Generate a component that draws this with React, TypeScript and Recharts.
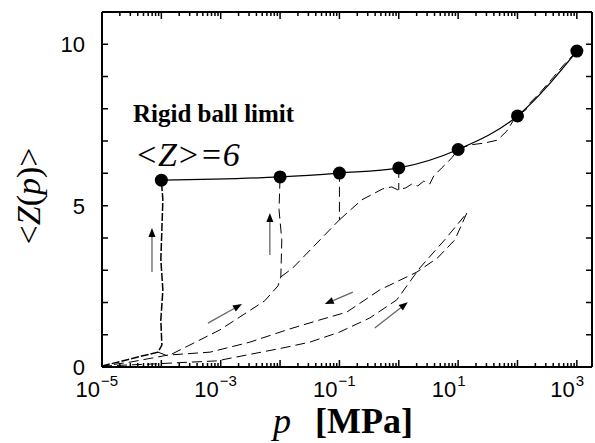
import React from 'react';
import { LineChart, Line, XAxis, YAxis, ReferenceLine } from 'recharts';

// <Z> at the rigid ball limit points (p in MPa)
const rigidP = [1e-4, 1e-2, 1e-1, 1, 10, 100, 1000];
const rigidZ = [5.79, 5.89, 6.01, 6.17, 6.74, 7.78, 9.79];

// dashed compression / decompression runs, [p, Z]
const firstLoad = [
  [1e-5, 0.03], [6.4e-5, 0.4], [8.8e-5, 0.46], [1.02e-4, 0.68], [0.98e-4, 1.46], [1.06e-4, 2.39],
  [0.98e-4, 3.32], [1.02e-4, 4.25], [1.06e-4, 5.18], [1e-4, 5.79],
];
const secondLoad = [
  [8.8e-5, 0.46], [1.29e-4, 0.34], [9.7e-4, 1.15], [5.5e-3, 2.05], [9.2e-3, 2.51], [1.03e-2, 2.79],
  [1.07e-2, 3.94], [0.96e-2, 4.87], [1e-2, 5.89],
];
const thirdLoad = [[1.03e-2, 2.79], [0.0164, 3.07], [0.1, 4.56], [0.1, 6.01]];
const fourthLoad = [
  [0.1, 4.56], [0.238, 5.18], [0.538, 5.52], [0.762, 5.58], [0.96, 5.49], [1.31, 5.55], [1.66, 5.67],
  [2.09, 5.61], [2.64, 5.76], [3.33, 5.67], [3.88, 5.92], [5.3, 6.17], [6.68, 6.35], [7.8, 6.48], [10, 6.74],
];
const jumpAtOne = [[1, 6.17], [1, 5.49]];
const highLoad = [
  [10, 6.74], [15.7, 6.88], [28, 6.94], [46, 7.03], [66, 7.31], [86, 7.65], [109, 7.84], [137, 7.96],
  [155, 8.15], [237, 8.49], [377, 8.92], [600, 9.36], [1000, 9.79],
];
const reload = [
  [1e-5, 0.03], [6.4e-5, 0.09], [8.6e-4, 0.19], [0.0111, 0.59], [0.0318, 0.77], [0.1, 1.08],
  [0.325, 1.52], [0.925, 2.08], [2.26, 3.07], [5.94, 3.94], [14, 4.77],
];
const unload = [
  [14, 4.77], [8.8, 3.94], [4.5, 3.38], [2.01, 2.94], [0.479, 2.39], [0.133, 1.7], [0.0468, 1.46],
  [0.0146, 1.18], [3.1e-3, 0.77], [6.6e-4, 0.46], [1.29e-4, 0.37], [2.96e-5, 0.15], [1e-5, 0.03],
];

// arrows: [pFrom, zFrom, pTo, zTo]
const arrows = [
  [6.95e-5, 2.94, 6.95e-5, 4.31],
  [6.73e-3, 3.47, 6.73e-3, 4.77],
  [6.1e-4, 1.36, 2.28e-3, 1.95],
  [0.168, 2.32, 0.0567, 1.95],
  [0.394, 1.21, 1.42, 2.01],
];

const decades = [-5, -4, -3, -2, -1, 0, 1, 2, 3];
const labeledDecades = [-5, -3, -1, 1, 3];
const minorSteps = [2, 3, 4, 5, 6, 7, 8, 9];
const yTicks = [0, 1, 2, 3, 4, 5, 6, 7, 8, 9, 10];
const yLabels = [0, 5, 10];

const xTicks = decades.flatMap((d) =>
  d === 3 ? [Math.pow(10, d)] : [Math.pow(10, d), ...minorSteps.map((m) => m * Math.pow(10, d))]
);

const toPts = (arr: number[][]) => arr.map(([p, z]) => ({ p, z }));
const rigid = rigidP.map((p, i) => ({ p, z: rigidZ[i] }));

const SANS = '"Liberation Sans", Arial, sans-serif';
const SERIF = '"Liberation Serif", "Times New Roman", serif';

const W = 595;
const H = 443;
const M = { top: 12, right: 3, bottom: 76, left: 102 };
const PLOT_W = W - M.left - M.right;
const PLOT_H = H - M.top - M.bottom;

const decadeOf = (v: number) => {
  const l = Math.log10(v);
  return Math.abs(l - Math.round(l)) < 1e-6 ? Math.round(l) : null;
};

// bottom ticks also draw the mirrored ticks on the top frame
const BottomTick = (props: any) => {
  const { payload } = props;
  const x = Number(props.x);
  const y = Number(props.y);
  const d = decadeOf(payload.value);
  const len = d !== null ? 7 : 4;
  const sup = d !== null && labeledDecades.includes(d) ? (d < 0 ? `\u2212${-d}` : `${d}`) : null;
  const top = y - PLOT_H;
  return (
    <g>
      <path d={`M${x},${y}V${y - len}M${x},${top}V${top + len}`} stroke="#000" strokeWidth={1.5} fill="none" />
      {sup !== null && (
        <>
          <text x={x - 2} y={y + 30} textAnchor="end" fontFamily={SANS} fontSize={22} fill="#000">10</text>
          <text x={x - 1} y={y + 19} textAnchor="start" fontFamily={SANS} fontSize={15} fill="#000">{sup}</text>
        </>
      )}
    </g>
  );
};

// left ticks also draw the mirrored ticks on the right frame
const LeftTick = (props: any) => {
  const { payload } = props;
  const x = Number(props.x);
  const y = Number(props.y);
  const right = x + PLOT_W;
  return (
    <g>
      <path d={`M${x},${y}H${x + 6}M${right},${y}H${right - 6}`} stroke="#000" strokeWidth={1.5} fill="none" />
      {yLabels.includes(payload.value) && (
        <text x={x - 17} y={y + 8} textAnchor="end" fontFamily={SANS} fontSize={22} fill="#000">
          {payload.value}
        </text>
      )}
    </g>
  );
};

const Arrow = (props: any) => {
  const { x1, y1, x2, y2 } = props;
  const a = Math.atan2(y2 - y1, x2 - x1);
  const L = 9;
  const w = 3.5;
  const bx = x2 - L * Math.cos(a);
  const by = y2 - L * Math.sin(a);
  const pts = `${x2},${y2} ${bx - w * Math.sin(a)},${by + w * Math.cos(a)} ${bx + w * Math.sin(a)},${by - w * Math.cos(a)}`;
  return (
    <g>
      <line x1={x1} y1={y1} x2={bx} y2={by} stroke="#666" strokeWidth={1.3} />
      <polygon points={pts} fill="#000" />
    </g>
  );
};

const dashedRuns = [secondLoad, thirdLoad, fourthLoad, jumpAtOne, highLoad, reload, unload];

export default function App() {
  return (
    <div style={{ position: 'absolute', left: 0, top: 0, width: W, height: H, background: '#fff' }}>
      <LineChart width={W} height={H} margin={{ top: M.top - 1, right: M.right - 1, bottom: 0, left: 0 }}>
        <XAxis
          dataKey="p"
          type="number"
          scale="log"
          domain={[1e-5, 1800]}
          allowDataOverflow
          ticks={xTicks}
          interval={0}
          tickSize={0}
          tickMargin={0}
          tickLine={false}
          height={M.bottom}
          axisLine={{ stroke: '#000', strokeWidth: 2 }}
          tick={<BottomTick />}
        />
        <XAxis
          xAxisId="top"
          orientation="top"
          dataKey="p"
          type="number"
          scale="log"
          domain={[1e-5, 1800]}
          allowDataOverflow
          height={1}
          tick={false}
          tickLine={false}
          axisLine={{ stroke: '#000', strokeWidth: 2 }}
        />
        <YAxis
          type="number"
          domain={[0, 11]}
          allowDataOverflow
          ticks={yTicks}
          interval={0}
          tickSize={0}
          tickMargin={0}
          tickLine={false}
          width={M.left}
          axisLine={{ stroke: '#000', strokeWidth: 2 }}
          tick={<LeftTick />}
        />
        <YAxis
          yAxisId="right"
          orientation="right"
          type="number"
          domain={[0, 11]}
          allowDataOverflow
          width={1}
          tick={false}
          tickLine={false}
          axisLine={{ stroke: '#000', strokeWidth: 2 }}
        />
        <Line
          data={toPts(firstLoad)}
          dataKey="z"
          type="linear"
          stroke="#000"
          strokeWidth={1.5}
          strokeDasharray="8 2"
          dot={false}
          isAnimationActive={false}
        />
        {dashedRuns.map((run, i) => (
          <Line
            key={i}
            data={toPts(run)}
            dataKey="z"
            type="linear"
            stroke="#000"
            strokeWidth={1}
            strokeDasharray="10 5"
            dot={false}
            isAnimationActive={false}
          />
        ))}
        <Line
          data={rigid}
          dataKey="z"
          type="monotone"
          stroke="#000"
          strokeWidth={1.3}
          dot={{ r: 6.5, fill: '#000', stroke: '#000', strokeWidth: 0 }}
          isAnimationActive={false}
        />
        {arrows.map(([pa, za, pb, zb], i) => (
          <ReferenceLine
            key={`a${i}`}
            segment={[{ x: pa, y: za }, { x: pb, y: zb }]}
            ifOverflow="visible"
            shape={<Arrow />}
          />
        ))}
        <text x={133} y={122} fontFamily={SERIF} fontWeight="bold" fontSize={25} fill="#000">
          Rigid ball limit
        </text>
        <text x={135} y={166} fontFamily={SERIF} fontStyle="italic" fontSize={34} fill="#000">
          {'<Z>=6'}
        </text>
        <text x={273} y={433} fontFamily={SERIF} fontStyle="italic" fontSize={36} fill="#000">
          p
        </text>
        <text x={315} y={433} fontFamily={SERIF} fontWeight="bold" fontSize={36} fill="#000">
          [MPa]
        </text>
        <text
          transform="translate(40,196) rotate(-90)"
          textAnchor="middle"
          fontFamily={SERIF}
          fontSize={34}
          fill="#000"
        >
          {'<'}
          <tspan fontStyle="italic">Z</tspan>(<tspan fontStyle="italic">p</tspan>){'>'}
        </text>
      </LineChart>
    </div>
  );
}
